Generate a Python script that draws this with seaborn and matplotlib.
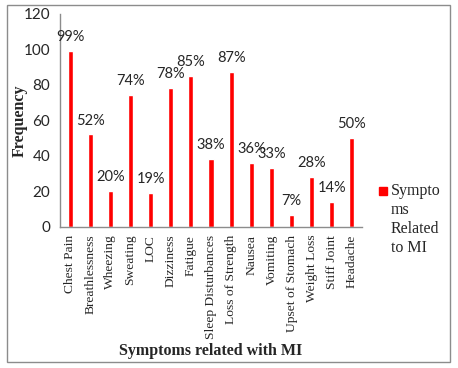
import matplotlib
matplotlib.use("Agg")
import pandas as pd
import seaborn as sns
import matplotlib.pyplot as plt
from matplotlib.patches import Rectangle
from matplotlib.legend_handler import HandlerPatch

symptoms = ["Chest Pain", "Breathlessness", "Wheezing", "Sweating", "LOC",
            "Dizziness", "Fatigue", "Sleep Disturbances", "Loss of Strength",
            "Nausea", "Vomiting", "Upset of Stomach", "Weight Loss",
            "Stiff Joint", "Headache"]
frequency = [99, 52, 20, 74, 19, 78, 85, 38, 87, 36, 33, 7, 28, 14, 50]
pct_labels = ["99%", "52%", "20%", "74%", "19%", "78%", "85%", "38%", "87%",
              "36%", "33%", "7%", "28%", "14%", "50%"]
y_ticks = [0, 20, 40, 60, 80, 100, 120]

df = pd.DataFrame({"symptom": symptoms, "freq": frequency})

sns.set_style("white")
serif = ["Liberation Serif", "DejaVu Serif"]
sans = ["Lato", "DejaVu Sans"]
grey = "#8c8c8c"

fig = plt.figure(figsize=(4.58, 3.68), dpi=100)
ax = fig.add_axes([60 / 458, 1 - 227 / 368, 302 / 458, 213.5 / 368])

sns.barplot(data=df, x="symptom", y="freq", color="#ff0000", saturation=1,
            width=0.25, ax=ax)

# value labels above bars
for i, (v, lab) in enumerate(zip(frequency, pct_labels)):
    ax.annotate(lab, (i, v), xytext=(0, 5), textcoords="offset points",
                ha="center", va="bottom", fontsize=10.5, family=sans)

ax.set_ylim(0, 120)
ax.set_yticks(y_ticks)
ax.set_yticklabels([str(t) for t in y_ticks], fontsize=11, family=sans)
ax.set_xticklabels(symptoms, rotation=90, fontsize=9.7, family=serif)
ax.tick_params(axis="y", length=4, color=grey, pad=3)
ax.tick_params(axis="x", length=0, pad=5.5)

for s in ["top", "right"]:
    ax.spines[s].set_visible(False)
for s in ["left", "bottom"]:
    ax.spines[s].set_color(grey)
    ax.spines[s].set_linewidth(1)

ax.set_xlabel("")
ax.set_ylabel("")
fig.text(211 / 458, 1 - 351 / 368, "Symptoms related with MI", ha="center",
         va="center", fontsize=11.5, fontweight="bold", family=serif)
fig.text(20 / 458, 1 - 121 / 368, "Frequency", ha="center", va="center",
         rotation=90, fontsize=11.5, fontweight="bold", family=serif)

LEG_SPACING = 1.25


# small square next to the first line of the (four line) legend label
def top_square(legend, orig_handle, xdescent, ydescent, width, height, fontsize):
    s = 0.5 * fontsize
    return Rectangle((-xdescent, 1.92 * fontsize), s, s)


handle = Rectangle((0, 0), 1, 1, color="#ff0000")
leg = fig.legend([handle], ["Sympto\nms\nRelated\nto MI"],
                 loc="upper left", bbox_to_anchor=(365 / 458, 1 - 169 / 368),
                 frameon=False, handlelength=0.5, handleheight=0.5,
                 handletextpad=0.2, prop={"family": serif, "size": 11.5},
                 handler_map={Rectangle: HandlerPatch(patch_func=top_square)})
for t in leg.get_texts():
    t.set_linespacing(LEG_SPACING)

# outer chart border
fig.patches.append(Rectangle((7 / 458, 1 - 362 / 368), 443 / 458, 357 / 368,
                             transform=fig.transFigure, fill=False,
                             edgecolor=grey, linewidth=1))

fig.savefig("out.png", dpi=100, facecolor="white")
